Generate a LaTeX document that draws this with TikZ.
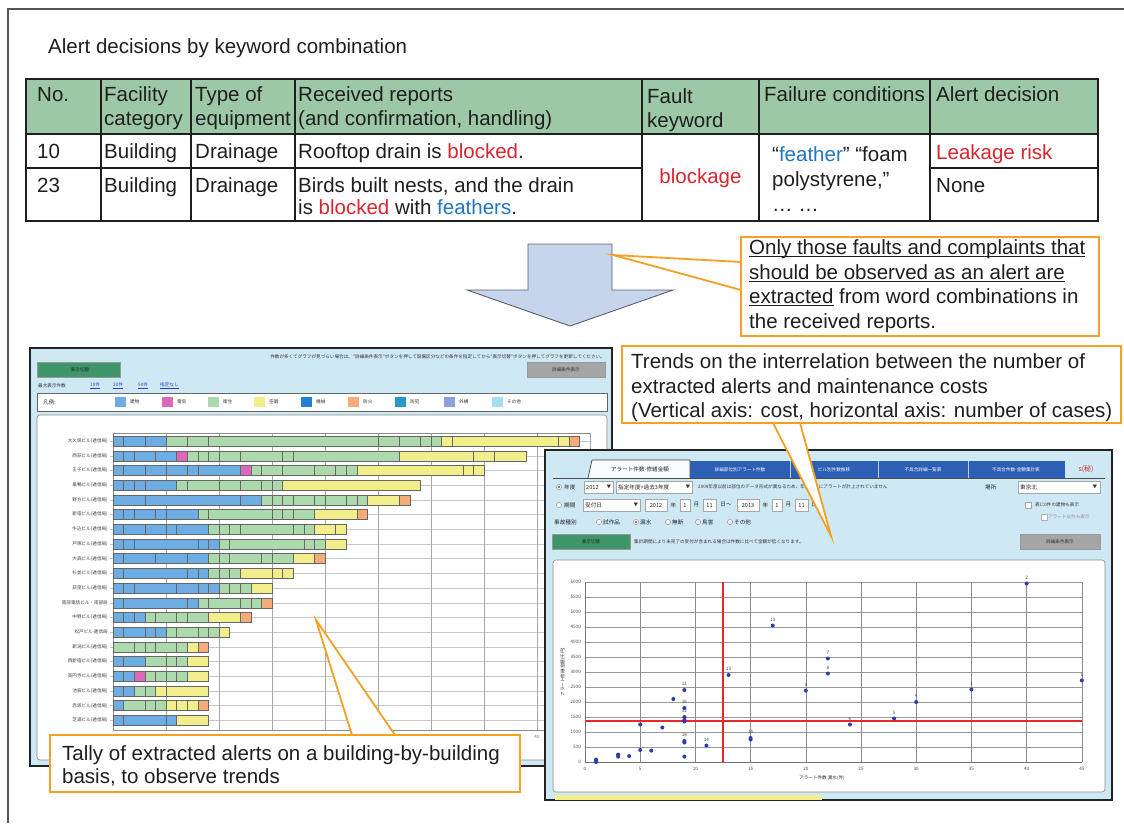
\documentclass[tikz,border=0pt]{standalone}
\usepackage{fontspec}
\setmainfont{Liberation Sans}
\newfontfamily\jp{Noto Sans CJK JP}
\usetikzlibrary{calc}

\definecolor{framegray}{RGB}{85,85,85}
\definecolor{rulecol}{RGB}{30,30,30}
\definecolor{hdrgreen}{RGB}{157,200,167}
\definecolor{alertred}{RGB}{215,38,46}
\definecolor{kwblue}{RGB}{30,120,195}
\definecolor{callout}{RGB}{246,160,35}
\definecolor{arrowfill}{RGB}{198,212,236}
\definecolor{arrowline}{RGB}{90,95,110}
\definecolor{scrbg}{RGB}{206,233,244}
\definecolor{scrframe}{RGB}{35,35,35}
\definecolor{btngreen}{RGB}{60,150,105}
\definecolor{btngray}{RGB}{165,165,165}
\definecolor{tabblue}{RGB}{45,95,180}
\definecolor{linkblue}{RGB}{40,60,200}
\definecolor{cBld}{RGB}{110,172,228}
\definecolor{cElec}{RGB}{222,105,185}
\definecolor{cSan}{RGB}{172,218,172}
\definecolor{cAir}{RGB}{242,238,140}
\definecolor{cMach}{RGB}{35,128,212}
\definecolor{cFire}{RGB}{246,172,120}
\definecolor{cSec}{RGB}{40,150,200}
\definecolor{cExt}{RGB}{140,160,222}
\definecolor{cOth}{RGB}{165,222,242}
\definecolor{dotblue}{RGB}{45,60,170}
\definecolor{plotred}{RGB}{232,40,40}

% underline set close to the baseline
\newcommand\ulined[1]{\setbox0\hbox{#1}\rlap{\rule[-2.6pt]{\wd0}{1.1pt}}\box0\relax}

% one stacked bar of the building chart: #1 row, #2 list colour/units
\newcommand\bldbar[2]{%
  \gdef\barpos{0}%
  \foreach \cc/\uu in {#2}{%
    \pgfmathsetmacro\xa{113+10.6*\barpos}%
    \pgfmathsetmacro\xb{113+10.6*(\barpos+\uu)}%
    \pgfmathsetmacro\yc{441+14.7*(#1-1)}%
    \draw[barcell,fill=\cc] (\xa,\yc-5) rectangle (\xb,\yc+5);%
    \pgfmathsetmacro\np{\barpos+\uu}%
    \xdef\barpos{\np}%
  }%
}

\begin{document}
\begin{tikzpicture}[x=1pt,y=-1pt,
  body/.style={font=\fontsize{20.5}{25}\selectfont,inner sep=0pt,anchor=base west,text=black!88},
  tinyjp/.style={font=\jp\fontsize{4.6}{5.5}\selectfont,inner sep=0pt,text=black!80},
  smalljp/.style={font=\jp\fontsize{5.6}{6.5}\selectfont,inner sep=0pt,text=black!85},
  tablerule/.style={draw=rulecol,line width=1.5pt},
  calloutbox/.style={draw=callout,line width=1.8pt,fill=white},
  pointer/.style={draw=callout,line width=1.8pt,line join=miter},
  barcell/.style={draw=black!60,line width=0.35pt},
  gridline/.style={draw=black!35,line width=0.4pt},
  scrpanel/.style={fill=white,draw=black!45,line width=0.6pt,rounded corners=3pt},
  ddbox/.style={fill=white,draw=black!35,line width=0.4pt},
  btnbox/.style={line width=0.4pt,draw=black!40},
]
\useasboundingbox (0,0) rectangle (1124,823);
\fill[white] (0,0) rectangle (1124,823);

% page frame (top and left rules)
\draw[framegray,line width=1.2pt] (1124,9) -- (8,9) -- (8,823);

% ---------------- title and table ----------------
\node[body] (title) at (48,53) {Alert decisions by keyword combination};

\fill[hdrgreen] (26,79) rectangle (1098,134);
\draw[tablerule] (26,134) -- (1098,134);
\draw[tablerule] (26,168) -- (642,168);
\draw[tablerule] (930,168) -- (1098,168);
\foreach \cx in {101,191,295,642,759,930}
  \draw[tablerule] (\cx,79) -- (\cx,221);
\draw[tablerule] (26,79) rectangle (1098,221);

\node[body] (h-no)   at (37,101)  {No.};
\node[body] (h-fac1) at (104,101) {Facility};
\node[body] (h-fac2) at (104,125) {category};
\node[body] (h-typ1) at (195,101) {Type of};
\node[body] (h-typ2) at (195,125) {equipment};
\node[body] (h-rec1) at (298,101) {Received reports};
\node[body] (h-rec2) at (298,125) {(and confirmation, handling)};
\node[body] (h-flt1) at (647,103) {Fault};
\node[body] (h-flt2) at (647,127) {keyword};
\node[body] (h-fail) at (764,101) {Failure conditions};
\node[body] (h-dec)  at (936,101) {Alert decision};

\node[body] (r1-no)  at (37,158)  {10};
\node[body] (r1-fac) at (104,158) {Building};
\node[body] (r1-typ) at (195,158) {Drainage};
\node[body] (r1-rec) at (298,158) {Rooftop drain is \textcolor{alertred}{blocked}.};
\node[body] (r2-no)  at (37,192)  {23};
\node[body] (r2-fac) at (104,192) {Building};
\node[body] (r2-typ) at (195,192) {Drainage};
\node[body] (r2-rec1) at (298,192) {Birds built nests, and the drain};
\node[body] (r2-rec2) at (298,214) {is \textcolor{alertred}{blocked} with \textcolor{kwblue}{feathers}.};
\node[body,anchor=base] (kw) at (700.5,183) {\textcolor{alertred}{blockage}};
\node[body] (fc1) at (772,161) {“\textcolor{kwblue}{feather}” “foam};
\node[body] (fc2) at (772,186) {polystyrene,”};
\node[body] (fc3) at (772,211) {… …};
\node[body] (d1) at (936,159) {\textcolor{alertred}{Leakage risk}};
\node[body] (d2) at (936,192) {None};

% ---------------- down arrow ----------------
\draw[fill=arrowfill,draw=arrowline,line width=0.9pt,line join=miter]
  (528,244) -- (612,244) -- (612,290) -- (673,290) -- (570,326)
  -- (467,290) -- (528,290) -- cycle;
\coordinate (arrowR) at (613,255);

% ---------------- left screen: building-by-building tally ----------------
\draw[fill=scrbg,draw=scrframe,line width=1.5pt] (30,348) rectangle (612,766);
\node[tinyjp,anchor=east] (ls-note) at (605,357) {件数が多くてグラフが見づらい場合は、“詳細条件表示”ボタンを押して設備区分などの条件を指定してから“表示切替”ボタンを押してグラフを更新してください。};
\draw[btnbox,fill=btngreen] (37,362) rectangle (120,377);
\node[tinyjp,text=black!85] (ls-btn1) at (80,369.5) {表示切替};
\draw[btnbox,fill=btngray] (527,362) rectangle (605,377);
\node[tinyjp] (ls-btn2) at (566,369.5) {詳細条件表示};
\node[tinyjp,anchor=west] (ls-max) at (38,386) {最大表示件数};
\node[tinyjp,anchor=west,text=linkblue] (ls-l1) at (90,386) {\underline{10件}};
\node[tinyjp,anchor=west,text=linkblue] (ls-l2) at (113,386) {\underline{20件}};
\node[tinyjp,anchor=west,text=linkblue] (ls-l3) at (138,386) {\underline{50件}};
\node[tinyjp,anchor=west,text=linkblue] (ls-l4) at (160,386) {\underline{指定なし}};
% legend
\draw[fill=white,draw=black!60,line width=0.8pt] (37,393) rectangle (607,411);
\node[smalljp,anchor=west] (lg-title) at (43,402) {凡例:};
\foreach \lx/\lc/\lt [count=\li] in {115/cBld/建物,162/cElec/電気,208/cSan/衛生,254/cAir/空調,301/cMach/機械,348/cFire/防火,395/cSec/防犯,444/cExt/外構,492/cOth/その他}{
  \fill[\lc] (\lx,397) rectangle (\lx+11,407);
  \node[tinyjp,anchor=west] (lg-\li) at (\lx+15,402) {\lt};
}
% chart panel
\draw[scrpanel] (37,415) rectangle (607,760);
\foreach \i in {1,...,20}
  \draw[gridline,draw=black!22] (110,{441+14.7*(\i-1)}) -- (592,{441+14.7*(\i-1)});
\foreach \k in {0,5,...,45}
  \draw[gridline] ({113+10.6*\k},433) -- ({113+10.6*\k},730);
\draw[draw=black!45,line width=0.5pt] (113,433) -- (590,433);
\draw[draw=black!45,line width=0.5pt] (113,433) -- (113,730) -- (590,730);
\foreach \k in {0,5,...,40}
  \node[tinyjp,text=black!55] (lx\k) at ({113+10.6*\k},737) {\k};
\foreach \i/\nm in {1/大久保ビル(逓信局),2/西荻ビル(逓信局),3/王子ビル(逓信局),4/巣鴨ビル(逓信局),5/野方ビル(逓信局),6/新宿ビル(逓信局),7/牛込ビル(逓信局),8/戸塚ビル(逓信局),9/大森ビル(逓信局),10/杉並ビル(逓信局),11/荻窪ビル(逓信局),12/南部電話ビル・南部局,13/中野ビル(逓信局),14/松戸ビル\ 逓信局,15/新潟ビル(逓信局),16/西新宿ビル(逓信局),17/高円寺ビル(逓信局),18/池袋ビル(逓信局),19/赤坂ビル(逓信局),20/芝浦ビル(逓信局)}{
  \node[tinyjp,anchor=east,text=black!75] (bl\i) at (108,{441+14.7*(\i-1)}) {\nm};
}
\bldbar{1}{cBld/1,cBld/2,cBld/2,cSan/2,cSan/2,cSan/16,cSan/2,cSan/2,cSan/1,cSan/1,cAir/1,cAir/10,cAir/1,cFire/1}
\bldbar{2}{cBld/1,cBld/1,cBld/2,cBld/2,cElec/1,cSan/1,cSan/1,cSan/1,cSan/2,cSan/4,cSan/1,cSan/10,cAir/7,cAir/2,cAir/3}
\bldbar{3}{cBld/1,cBld/2,cBld/2,cBld/2,cBld/1,cBld/4,cElec/1,cSan/1,cSan/2,cSan/3,cSan/2,cSan/1,cSan/1,cAir/10,cAir/1,cAir/1}
\bldbar{4}{cBld/1,cBld/1,cBld/1,cBld/3,cSan/1,cSan/3,cSan/2,cSan/2,cSan/1,cSan/1,cAir/13}
\bldbar{5}{cBld/3,cBld/9,cBld/2,cSan/1,cSan/1,cSan/1,cSan/2,cSan/1,cSan/2,cSan/1,cSan/1,cAir/3,cFire/1}
\bldbar{6}{cBld/1,cBld/1,cBld/2,cBld/1,cBld/3,cSan/1,cSan/6,cSan/1,cSan/1,cSan/2,cAir/4,cFire/1}
\bldbar{7}{cBld/1,cBld/2,cBld/2,cBld/1,cBld/3,cSan/1,cSan/1,cSan/1,cSan/5,cSan/1,cSan/1,cAir/2,cAir/1}
\bldbar{8}{cBld/1,cBld/1,cBld/6,cBld/1,cBld/1,cSan/1,cSan/7,cSan/1,cSan/1,cAir/2}
\bldbar{9}{cBld/1,cBld/3,cBld/3,cBld/2,cSan/1,cSan/1,cSan/3,cSan/1,cSan/2,cAir/2,cFire/1}
\bldbar{10}{cBld/1,cBld/6,cBld/1,cBld/1,cSan/1,cSan/1,cSan/1,cAir/3,cAir/1,cAir/1}
\bldbar{11}{cBld/1,cBld/1,cBld/4,cBld/2,cBld/1,cBld/1,cSan/1,cSan/1,cSan/1,cAir/2}
\bldbar{12}{cBld/1,cBld/6,cBld/1,cSan/1,cSan/3,cSan/1,cSan/1,cFire/1}
\bldbar{13}{cBld/1,cBld/1,cBld/1,cSan/1,cSan/2,cSan/1,cSan/2,cAir/3,cFire/1}
\bldbar{14}{cBld/1,cBld/2,cBld/1,cBld/1,cSan/1,cSan/2,cSan/1,cSan/1,cAir/1}
\bldbar{15}{cSan/2,cSan/1,cSan/1,cSan/2,cSan/1,cAir/1,cFire/1}
\bldbar{16}{cBld/1,cBld/2,cSan/2,cSan/1,cSan/1,cAir/2}
\bldbar{17}{cBld/1,cBld/1,cElec/1,cSan/1,cSan/1,cSan/1,cSan/1,cAir/2}
\bldbar{18}{cBld/1,cBld/1,cSan/1,cSan/1,cAir/1,cAir/4}
\bldbar{19}{cBld/1,cSan/2,cSan/1,cSan/1,cAir/1,cAir/1,cAir/1,cFire/1}
\bldbar{20}{cBld/1,cBld/4,cBld/1,cAir/3}

% ---------------- right screen: alerts vs. repair cost ----------------
\draw[fill=scrbg,draw=scrframe,line width=1.5pt] (545,450) rectangle (1112,800);
% tabs
\fill[tabblue] (690,461) rectangle (1065,478);
\foreach \sx in {790,878,968} \draw[white!70!tabblue,line width=0.6pt] (\sx,461) -- (\sx,478);
\draw[fill=white!85!scrbg,draw=black!75,line width=0.7pt] (588,478) -- (592,460) -- (690,460) -- (690,478);
\draw[black!70,line width=0.7pt] (553,478) -- (1105,478);
\node[smalljp] (tab1) at (640,469.5) {アラート件数-修繕金額};
\node[tinyjp,text=white] (tab2) at (740,469.5) {詳細部位別アラート件数};
\node[tinyjp,text=white] (tab3) at (834,469.5) {ビル別件数推移};
\node[tinyjp,text=white] (tab4) at (923,469.5) {不具合詳細一覧表};
\node[tinyjp,text=white] (tab5) at (1016,469.5) {不具合件数-金額集計表};
\node[font=\jp\fontsize{7}{8}\selectfont,inner sep=0pt,text=alertred] (tab6) at (1086,469.5) {s(秘)};
% control row 1
\draw[fill=white,draw=black!50,line width=0.4pt] (559,487) circle (2.6);
\fill[black!70] (559,487) circle (1.2);
\node[smalljp,anchor=west] (c-year) at (564,487) {年度};
\draw[ddbox] (584,481) rectangle (613,493);
\node[smalljp,anchor=west] (c-y1) at (586,487) {2012};
\node[tinyjp] (c-y1a) at (609,487) {▼};
\draw[ddbox] (616,481) rectangle (692,493);
\node[smalljp,anchor=west] (c-y2) at (618,487) {指定年度+過去3年度};
\node[tinyjp] (c-y2a) at (688,487) {▼};
\node[tinyjp,anchor=west] (c-note1) at (698,487) {2009年度以前は部位のデータ形式が異なるため、年度変更にアラートが計上されていません};
\node[smalljp,anchor=west] (c-loc) at (985,487) {場所};
\draw[ddbox] (1018,481) rectangle (1100,493);
\node[smalljp,anchor=west] (c-loc1) at (1020,487) {東京北};
\node[tinyjp] (c-loca) at (1095,487) {▼};
% control row 2
\draw[fill=white,draw=black!50,line width=0.4pt] (559,505) circle (2.6);
\node[smalljp,anchor=west] (c-per) at (564,505) {期間};
\draw[ddbox] (583,499) rectangle (640,511);
\node[smalljp,anchor=west] (c-p1) at (585,505) {受付日};
\node[tinyjp] (c-p1a) at (636,505) {▼};
\foreach \bx/\bw/\bt [count=\bi] in {645/22/2012,680/10/1,703/13/11,737/22/2013,772/10/1,795/13/11}{
  \draw[ddbox] (\bx,499) rectangle (\bx+\bw,511);
  \node[smalljp] (c-d\bi) at (\bx+\bw/2,505) {\bt};
}
\node[smalljp] (c-u1) at (673.5,505) {年};
\node[smalljp] (c-u2) at (696.5,505) {月};
\node[smalljp] (c-u3) at (726,505) {日～};
\node[smalljp] (c-u4) at (765.5,505) {年};
\node[smalljp] (c-u5) at (788.5,505) {月};
\node[smalljp] (c-u6) at (814,505) {日};
\draw[ddbox] (1025,502) rectangle (1031,508);
\node[tinyjp,anchor=west] (c-chk1) at (1035,505) {表に0件の建物も表示};
% control row 3
\node[smalljp,anchor=west] (c-kind) at (554,522) {事故種別};
\foreach \rx/\rt/\rs [count=\ri] in {599/試作品/0,636/漏水/1,668/無断/0,698/鳥害/0,730/その他/0}{
  \draw[fill=white,draw=black!50,line width=0.4pt] (\rx,522) circle (2.6);
  \ifnum\rs=1 \fill[black!70] (\rx,522) circle (1.2); \fi
  \node[smalljp,anchor=west] (c-k\ri) at (\rx+4,522) {\rt};
}
\draw[draw=black!30,fill=white,line width=0.4pt] (1041,514) rectangle (1047,520);
\node[tinyjp,anchor=west,text=black!45] (c-chk2) at (1048,517) {アラート以外も表示};
% control row 4
\draw[btnbox,fill=btngreen] (552,534) rectangle (630,549);
\node[tinyjp,text=black!85] (c-btn1) at (591,541.5) {表示切替};
\node[tinyjp,anchor=west] (c-note2) at (634,541.5) {集計期間により未完了の受付が含まれる場合は件数に比べて金額が低くなります。};
\draw[btnbox,fill=btngray] (1020,534) rectangle (1100,549);
\node[tinyjp] (c-btn2) at (1060,541.5) {詳細条件表示};
% plot panel
\draw[scrpanel] (553,560) rectangle (1105,792);
\foreach \v in {0,500,...,6000}
  \draw[gridline,draw=black!40] (585,{762-0.03*\v}) -- (1082,{762-0.03*\v});
\foreach \k in {0,5,...,45}
  \draw[gridline,draw=black!45] ({585+11.04*\k},582) -- ({585+11.04*\k},762);
\draw[black!55,line width=0.6pt] (585,582) -- (585,762) -- (1082,762);
\foreach \v in {0,500,...,6000}
  \node[tinyjp,anchor=east,text=black!70] (ry\v) at (581,{762-0.03*\v}) {\v};
\foreach \k in {0,5,...,45}
  \node[tinyjp,text=black!70] (rx\k) at ({585+11.04*\k},769) {\k};
\node[tinyjp,rotate=90,text=black!80] (r-ytitle) at (563,672) {アラート修繕金額(千円)};
\node[tinyjp,text=black!80] (r-xtitle) at (822,778) {アラート件数\ 漏水(件)};
% thresholds
\draw[plotred,line width=1.5pt] (585,721) -- (1082,721);
\draw[plotred,line width=1.3pt] ({585+11.04*12.5},582) -- ({585+11.04*12.5},762);
% data points
\foreach \u/\v in {1/0,1/40,1/80,3/180,3/250,4/200,5/400,5/1250,6/380,7/1150,8/2100,9/2400,9/1800,9/1500,9/1400,9/1350,9/700,9/650,9/180,11/550,13/2900,15/800,15/750,17/4550,20/2380,22/3450,22/2950,24/1250,28/1450,30/2000,35/2420,40/5950,45/2720}
  \fill[dotblue] ({585+11.04*\u},{762-0.03*\v}) circle (2);
\foreach \u/\v/\l in {9/2400/11,9/1800/16,9/1500/12,9/700/18,11/550/14,13/2900/13,15/800/15,17/4550/10,20/2380/9,22/3450/7,22/2950/8,24/1250/6,28/1450/5,30/2000/4,35/2420/3,40/5950/2,45/2720/1}
  \node[tinyjp,text=black!75] (pt\l) at ({585+11.04*\u},{762-0.03*\v-6}) {\l};
% table strip peeking at the bottom
\fill[cAir] (555,795) rectangle (822,799.5);

% ---------------- callouts ----------------
% extraction note
\coordinate (c1a) at (741,262);
\coordinate (c1b) at (741,290);
\fill[white] (c1a) -- (arrowR) -- (c1b) -- cycle;
\draw[pointer] (c1a) -- (arrowR) -- (c1b);
\draw[calloutbox] (741,237) rectangle (1099,336);
\node[body] (n1-1) at (749,254) {\ulined{Only those faults and complaints that}};
\node[body] (n1-2) at (749,279) {\ulined{should be observed as an alert are}};
\node[body] (n1-3) at (749,303) {\ulined{extracted} from word combinations in};
\node[body] (n1-4) at (749,328) {the received reports.};

% trend note
\coordinate (c2a) at (773,423);
\coordinate (c2b) at (800,423);
\coordinate (c2tip) at (831,536);
\fill[white] (c2a) -- (c2tip) -- (c2b) -- cycle;
\draw[pointer] (c2a) -- (c2tip) -- (c2b);
\draw[calloutbox] (622,346) rectangle (1121,423);
\node[body] (n2-1) at (631,368) {Trends on the interrelation between the number of};
\node[body] (n2-2) at (631,393) {extracted alerts and maintenance costs};
\node[body] (n2-3) at (631,417) {(Vertical axis: cost, horizontal axis: number of cases)};

% tally note
\coordinate (c3a) at (352,735);
\coordinate (c3b) at (395,735);
\coordinate (c3tip) at (316,620);
\fill[white] (c3a) -- (c3tip) -- (c3b) -- cycle;
\draw[pointer] (c3a) -- (c3tip) -- (c3b);
\draw[calloutbox] (50,735) rectangle (520,792);
\node[body] (n3-1) at (62,760) {Tally of extracted alerts on a building-by-building};
\node[body] (n3-2) at (62,783) {basis, to observe trends};
\end{tikzpicture}
\end{document}
